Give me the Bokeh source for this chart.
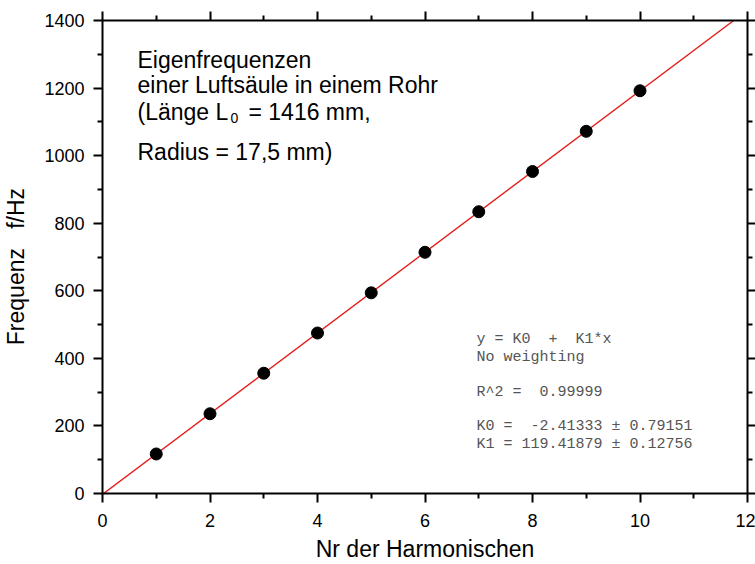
import numpy as np
from bokeh.plotting import figure
from bokeh.models import Range1d, LinearAxis, FixedTicker, Label, CustomJSTickFormatter
from bokeh.embed import file_html
from bokeh.resources import INLINE

# ---- data ----
harmonic_nr = [1, 2, 3, 4, 5, 6, 7, 8, 9, 10]
frequency_hz = [117, 236, 356, 475, 594, 714, 834, 953, 1072, 1192]
fit_K0 = -2.41333
fit_K1 = 119.41879
x_ticks = [0, 2, 4, 6, 8, 10, 12]
x_minor = [1, 3, 5, 7, 9, 11]
y_ticks = [0, 200, 400, 600, 800, 1000, 1200, 1400]
y_minor = [100, 300, 500, 700, 900, 1100, 1300]
title_lines = ["Eigenfrequenzen", "einer Luftsäule in einem Rohr", "(Länge L", "0", "= 1416 mm,", "Radius = 17,5 mm)"]
fit_lines = ["y = K0  +  K1*x", "No weighting", "R^2 =  0.99999",
             "K0 =  -2.41333 \u00b1 0.79151", "K1 = 119.41879 \u00b1 0.12756"]
x_label = "Nr der Harmonischen"
y_label_parts = ["Frequenz", "f/Hz"]

FONT = "Liberation Sans"
X_MAX, Y_MAX = 12, 1400
NB = "\u00a0"

def keep_spaces(s):
    return s.replace("  ", " " + NB)

p = figure(width=755, height=564, output_backend="svg", toolbar_location=None,
           x_range=Range1d(0, X_MAX), y_range=Range1d(0, Y_MAX),
           min_border_left=102, min_border_right=8, min_border_top=20, min_border_bottom=71)
p.grid.visible = False
p.outline_line_color = None
p.background_fill_color = "white"
p.border_fill_color = "white"

def style_axis(ax, labels=True):
    ax.axis_line_width = 2
    ax.axis_line_color = "black"
    ax.major_tick_line_width = 2
    ax.minor_tick_line_width = 2
    ax.major_tick_line_color = "black"
    ax.minor_tick_line_color = "black"
    ax.major_tick_in = 0
    ax.minor_tick_in = 0
    ax.major_tick_out = 9
    ax.minor_tick_out = 5
    if labels:
        ax.major_label_text_font = FONT
        ax.major_label_text_font_size = "18px"
        ax.major_label_text_color = "black"
    else:
        ax.formatter = CustomJSTickFormatter(code="return ''")
        ax.major_label_standoff = 0

p.xaxis.ticker = FixedTicker(ticks=x_ticks, minor_ticks=x_minor)
p.yaxis.ticker = FixedTicker(ticks=y_ticks, minor_ticks=y_minor)
style_axis(p.xaxis[0])
style_axis(p.yaxis[0])
p.xaxis.major_label_standoff = 11
p.yaxis.major_label_standoff = 9

p.xaxis.axis_label = x_label
p.xaxis.axis_label_text_font = FONT
p.xaxis.axis_label_text_font_size = "23px"
p.xaxis.axis_label_text_font_style = "normal"
p.xaxis.axis_label_text_color = "black"
p.xaxis.axis_label_standoff = 6

# y label: two-space gap, small pad at the end so it sits slightly below the axis centre
p.yaxis.axis_label = y_label_parts[0] + " " + NB * 2 + y_label_parts[1] + NB * 3
p.yaxis.axis_label_text_font = FONT
p.yaxis.axis_label_text_font_size = "23px"
p.yaxis.axis_label_text_font_style = "normal"
p.yaxis.axis_label_text_color = "black"
p.yaxis.axis_label_standoff = 12

top = LinearAxis(ticker=FixedTicker(ticks=x_ticks, minor_ticks=x_minor))
style_axis(top, labels=False)
p.add_layout(top, "above")
right = LinearAxis(ticker=FixedTicker(ticks=y_ticks, minor_ticks=y_minor))
style_axis(right, labels=False)
right.major_tick_out = 8
p.add_layout(right, "right")

# fit line
x_end = (Y_MAX - fit_K0) / fit_K1
fx = np.array([0.0, x_end])
p.line(fx, fit_K0 + fit_K1 * fx, line_color="#e41e1e", line_width=1.4)

# data points
p.scatter(harmonic_nr, frequency_hz, size=12, color="black")

# title annotation
tx = 0.651
tfs = "23px"
def tlabel(text, y, **kw):
    p.add_layout(Label(x=tx, y=y, text=text, text_font=FONT, text_baseline="alphabetic",
                       text_color="black", **kw))

tlabel(title_lines[0], 1282, text_font_size=tfs)
tlabel(title_lines[1], 1208, text_font_size=tfs)
tlabel(title_lines[2], 1128, text_font_size=tfs)
tlabel(title_lines[3], 1128, x_offset=93, y_offset=-6, text_font_size="14px")
tlabel(title_lines[4], 1128, x_offset=111, text_font_size=tfs)
tlabel(title_lines[5], 1012, text_font_size=tfs)

# fit result text
mx = 6.958
for txt, yy in zip(fit_lines, [456, 404, 300, 197, 145]):
    p.add_layout(Label(x=mx, y=yy, text=keep_spaces(txt), text_font="Liberation Mono",
                       text_font_size="15px", text_baseline="alphabetic", text_color="#555555"))

open("out.html", "w").write(file_html(p, INLINE))
